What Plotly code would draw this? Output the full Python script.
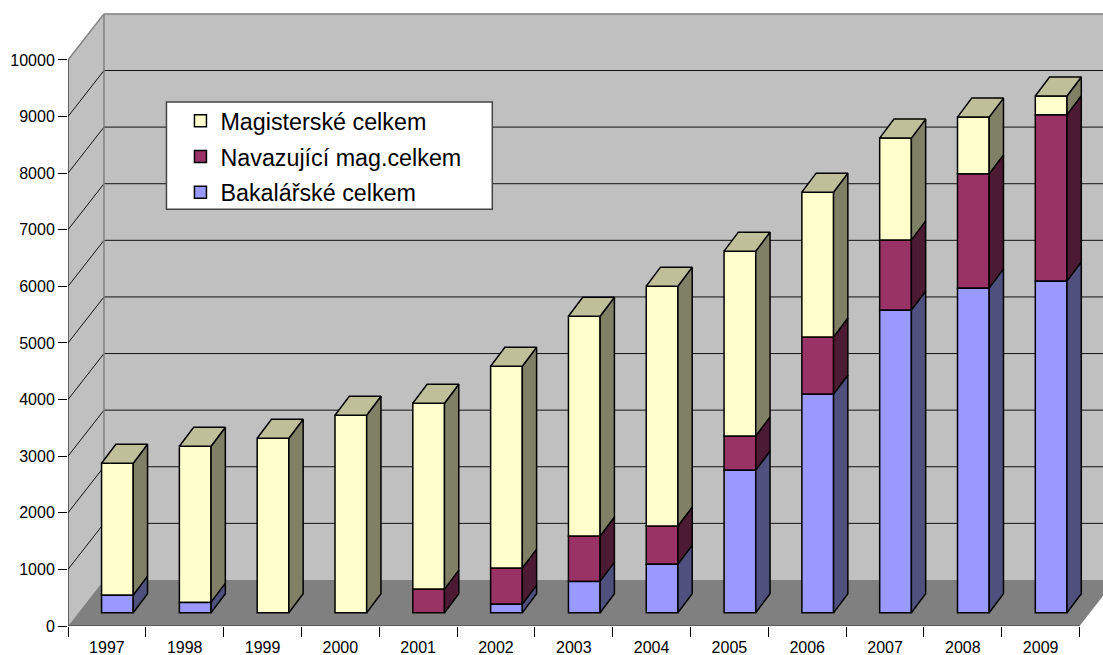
import plotly.graph_objects as go

years = ["1997","1998","1999","2000","2001","2002","2003","2004","2005","2006","2007","2008","2009"]
bakalarske = [306,182,0,0,0,147,553,854,2515,3859,5344,5733,5857]
navazujici = [0,0,0,0,412,636,796,672,602,1007,1237,2015,2934]
magisterske = [2333,2758,3081,3488,3288,3571,3889,4242,3270,2563,1803,1007,336]
y_ticks = list(range(0, 11000, 1000))

W, H = 1103, 655
LEFT, BOTTOM_PX = 67.5, 625.6
PX_X = 1 / 77.85      # categories per pixel
PX_Y = 10000 / 565.7  # value per pixel

WALL_DX, WALL_DY = 36 * PX_X, 46 * PX_Y
BAR_DX, BAR_DY = 10.5 * PX_X, 13.3 * PX_Y
SIDE_DX, SIDE_DY = 14.3 * PX_X, 19 * PX_Y
BAR_W = 31.7 * PX_X
XMIN, XMAX = -0.5, -0.5 + (W - LEFT) * PX_X
YMAX = BOTTOM_PX * PX_Y
XEND = 12.5

series = [
    ("Magisterské celkem", magisterske, "#FFFFCC", "#808066"),
    ("Navazující mag.celkem", navazujici, "#993366", "#4D1A33"),
    ("Bakalářské celkem", bakalarske, "#9999FF", "#50507F"),
]
order = [bakalarske, navazujici, magisterske]
TOP_COLOR = "#BFBF99"


def path(points):
    return "M " + " L ".join(f"{x},{y}" for x, y in points) + " Z"


shapes = []
def poly(points, fill, line=None, width=1):
    shapes.append(dict(type="path", path=path(points), xref="x", yref="y", layer="below",
                       fillcolor=fill, line=dict(color=line or fill, width=width if line else 0)))

def seg(x0, y0, x1, y1, color, width):
    shapes.append(dict(type="line", x0=x0, y0=y0, x1=x1, y1=y1, xref="x", yref="y", layer="below",
                       line=dict(color=color, width=width)))

# walls and floor
poly([(XMIN + WALL_DX, WALL_DY), (XMAX + 1, WALL_DY), (XMAX + 1, 10000 + WALL_DY), (XMIN + WALL_DX, 10000 + WALL_DY)], "#C0C0C0")
poly([(XMIN, 0), (XMIN + WALL_DX, WALL_DY), (XMIN + WALL_DX, 10000 + WALL_DY), (XMIN, 10000)], "#C0C0C0")
poly([(XMIN, 0), (XEND, 0), (XEND + WALL_DX, WALL_DY), (XMIN + WALL_DX, WALL_DY)], "#808080")
for t in y_ticks[1:-1]:
    seg(XMIN, t, XMIN + WALL_DX, t + WALL_DY, "#111111", 1)
    seg(XMIN + WALL_DX, t + WALL_DY, XMAX + 1, t + WALL_DY, "#111111", 1)
seg(XMIN + WALL_DX, WALL_DY, XMIN + WALL_DX, 10000 + WALL_DY, "#808080", 1.5)
seg(XMIN + WALL_DX, 10000 + WALL_DY, XMAX + 1, 10000 + WALL_DY, "#808080", 1.5)
seg(XMIN, 10000, XMIN + WALL_DX, 10000 + WALL_DY, "#808080", 1.5)
seg(XMIN, 0, XMIN, 10000, "#000000", 1)
seg(XMIN, 0, XEND, 0, "#333333", 1)

# cumulative bases
bases = {}
run = [BAR_DY] * len(years)
for vals in order:
    bases[id(vals)] = list(run)
    run = [r + v for r, v in zip(run, vals)]
tops = run

fig = go.Figure()

# front faces: real bars; legend comes from these
for idx, (name, vals, col, _side) in enumerate(series):
    fig.add_trace(go.Bar(
        x=[i + BAR_DX for i in range(len(years))],
        y=[v if v else None for v in vals],
        base=bases[id(vals)],
        width=BAR_W, name=name, legendgroup=name,
        marker=dict(color=col, line=dict(color="#000000", width=1.5)),
        hoverinfo="skip",
    ))

# side faces
for name, vals, col, side in series:
    xs, ys = [], []
    for i, v in enumerate(vals):
        if not v:
            continue
        x1 = i + BAR_DX + BAR_W / 2
        b = bases[id(vals)][i]
        xs += [x1, x1 + SIDE_DX, x1 + SIDE_DX, x1, x1, None]
        ys += [b, b + SIDE_DY, b + v + SIDE_DY, b + v, b, None]
    fig.add_trace(go.Scatter(x=xs, y=ys, mode="lines", fill="toself", fillcolor=side,
                             line=dict(color="#000000", width=1.5), showlegend=False, hoverinfo="skip"))

# top faces
xs, ys = [], []
for i, t in enumerate(tops):
    x0 = i + BAR_DX - BAR_W / 2
    x1 = i + BAR_DX + BAR_W / 2
    xs += [x0, x1, x1 + SIDE_DX, x0 + SIDE_DX, x0, None]
    ys += [t, t, t + SIDE_DY, t + SIDE_DY, t, None]
fig.add_trace(go.Scatter(x=xs, y=ys, mode="lines", fill="toself", fillcolor=TOP_COLOR,
                         line=dict(color="#000000", width=1.5), showlegend=False, hoverinfo="skip"))

# legend box
box = dict(type="rect", xref="paper", yref="paper", layer="above",
           x0=(166 - LEFT) / (W - LEFT), x1=(492 - LEFT) / (W - LEFT),
           y0=(BOTTOM_PX - 209) / BOTTOM_PX, y1=(BOTTOM_PX - 102) / BOTTOM_PX,
           fillcolor="#FFFFFF", line=dict(color="#444444", width=1.5))
shapes.append(box)

fig.update_layout(
    width=W, height=H, barmode="overlay",
    margin=dict(l=LEFT, r=0, t=0, b=H - BOTTOM_PX, pad=0, autoexpand=False),
    paper_bgcolor="#FFFFFF", plot_bgcolor="#FFFFFF",
    font=dict(family="Liberation Sans, Arial, sans-serif", color="#000000"),
    shapes=shapes,
    showlegend=True,
    legend=dict(x=(180 - LEFT) / (W - LEFT), y=(BOTTOM_PX - 99) / BOTTOM_PX, xanchor="left", yanchor="top",
                bgcolor="rgba(0,0,0,0)", borderwidth=0, font=dict(size=23.3), traceorder="grouped",
                tracegroupgap=2.5, itemwidth=30, itemclick=False, itemdoubleclick=False),
    xaxis=dict(range=[XMIN, XMAX], tickmode="array", tickvals=list(range(len(years))), ticktext=years,
               ticks="", showgrid=False, zeroline=False, showline=False, tickfont=dict(size=16),
               ticklabelstandoff=10,
               minor=dict(tickmode="linear", tick0=-0.5, dtick=1, ticks="outside", ticklen=10, tickwidth=1,
                          tickcolor="#000000", showgrid=False)),
    yaxis=dict(range=[0, YMAX], tickmode="array", tickvals=y_ticks, ticktext=[str(t) for t in y_ticks],
               ticks="outside", ticklen=9, tickwidth=1,
               tickcolor="#000000", showgrid=False, zeroline=False, showline=False, tickfont=dict(size=16)),
)

fig.write_html("out.html", config={"displayModeBar": False}, post_script="document.body.style.margin='0';")
